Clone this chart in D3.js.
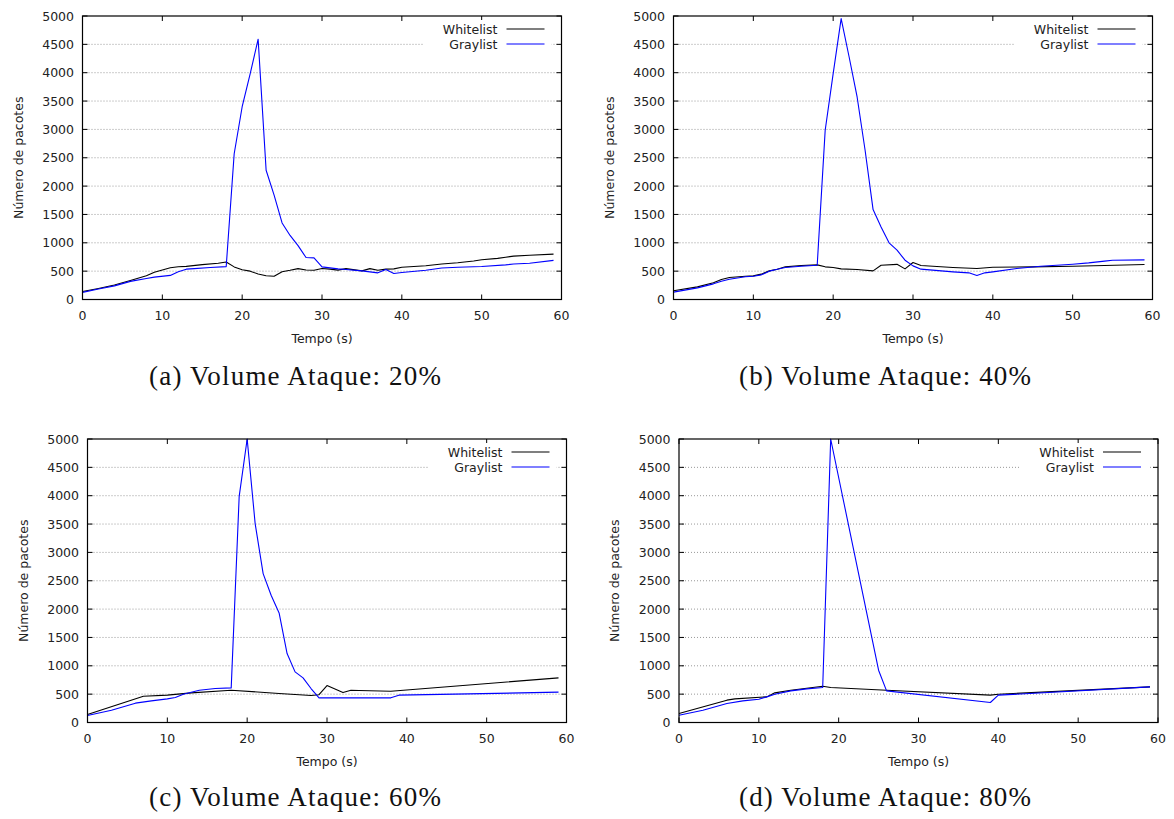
<!DOCTYPE html>
<html>
<head>
<meta charset="utf-8">
<script src="https://cdn.jsdelivr.net/npm/d3@7"></script>
<style>
  body { margin: 0; background: #fff; }
  svg { display: block; }
  .tick-label, .axis-title, .legend-label { font-family: "DejaVu Sans", sans-serif; font-size: 12.5px; fill: #222; }
  .caption { font-family: "Liberation Serif", serif; font-size: 27px; fill: #111; }
</style>
</head>
<body>
<svg id="chart" width="1174" height="819"></svg>
<script>
// tempo (s) -> numero de pacotes, vertices
const whitelist20 = [[0,140],[2,195],[4,255],[6,335],[8,420],[9,480],[10,520],[11,560],[12,578],[13,585],[15,615],[17,640],[18,660],[19,575],[20,525],[21,500],[22,450],[23,420],[24,410],[25,490],[26,515],[27,545],[28,520],[29,515],[30,548],[31,535],[32,518],[33,545],[35,505],[36,545],[37,515],[38,535],[39,540],[40,570],[43,595],[45,625],[47,648],[49,680],[50,700],[52,725],[53,745],[54,765],[56,780],[59,800]];
const graylist20 = [[0,125],[2,185],[4,240],[6,320],[8,370],[9,395],[11,425],[12,490],[13,535],[14,545],[16,565],[18,580],[19,2570],[20,3400],[21,3980],[22,4590],[23,2280],[24,1840],[25,1350],[26,1130],[27,950],[28,740],[29,735],[30,576],[31,558],[32,540],[33,528],[35,505],[36,488],[37,470],[38,528],[39,458],[40,475],[43,517],[45,555],[47,570],[50,582],[53,610],[54,625],[56,640],[59,690]];

const whitelist40 = [[0,153],[3,223],[5,294],[6,352],[7,388],[9,411],[10,417],[11,447],[12,505],[13,535],[14,576],[16,600],[18,611],[19,576],[20,564],[21,540],[23,528],[25,505],[26,605],[28,620],[29,540],[30,652],[31,600],[35,564],[38,546],[40,570],[45,576],[50,587],[54,600],[59,617]];
const graylist40 = [[0,130],[3,205],[5,276],[6,323],[7,358],[9,400],[10,411],[11,435],[12,500],[13,535],[14,564],[16,587],[18,605],[19,2985],[20,3984],[21,4953],[22,4277],[23,3572],[24,2632],[25,1586],[26,1280],[27,999],[28,870],[29,693],[30,593],[31,535],[35,488],[37,470],[38,423],[39,470],[40,488],[43,546],[46,587],[50,623],[52,646],[54,676],[55,693],[59,699]];

const whitelist60 = [[0,141],[7,464],[10,482],[13,523],[18,570],[24,511],[28,476],[29,490],[30,652],[32,529],[33,570],[34,564],[38,552],[59,787]];
const graylist60 = [[0,123],[3,217],[6,341],[8,382],[10,417],[11,441],[12,499],[14,570],[16,599],[18,611],[19,3989],[20,5000],[21,3508],[22,2626],[23,2244],[24,1933],[25,1216],[26,893],[27,787],[28,599],[29,435],[38,435],[39,482],[59,535]];

const whitelist80 = [[0,159],[6,394],[7,417],[11,452],[12,523],[14,570],[18,640],[19,617],[26,570],[39,482],[40,499],[59,629]];
const graylist80 = [[0,129],[3,217],[6,335],[8,382],[10,411],[11,452],[12,499],[14,558],[16,593],[18,617],[19,5000],[25,922],[26,558],[39,353],[40,482],[59,629]];

const xTicks = [0, 10, 20, 30, 40, 50, 60];
const yTicks = [0, 500, 1000, 1500, 2000, 2500, 3000, 3500, 4000, 4500, 5000];
const seriesNames = ["Whitelist", "Graylist"];
const seriesColors = ["#000000", "#0000ff"];
const captions = ["(a) Volume Ataque: 20%", "(b) Volume Ataque: 40%", "(c) Volume Ataque: 60%", "(d) Volume Ataque: 80%"];

const panels = [
  { left: 82.5,  top: 16,  capX: 295, capY: 385, data: [whitelist20, graylist20] },
  { left: 673.5, top: 16,  capX: 885, capY: 385, data: [whitelist40, graylist40] },
  { left: 87.5,  top: 439, capX: 295, capY: 806, data: [whitelist60, graylist60] },
  { left: 679,   top: 439, capX: 885, capY: 806, data: [whitelist80, graylist80] }
];
const W = 479, H = 283.5;

const svg = d3.select("#chart");

panels.forEach((p, i) => {
  const g = svg.append("g").attr("transform", `translate(${p.left},${p.top})`);

  const x = d3.scaleLinear().domain([0, 60]).range([0, W]);
  const y = d3.scaleLinear().domain([0, 5000]).range([H, 0]);

  // dotted grid on y ticks
  g.selectAll(".grid")
    .data(yTicks.filter(v => v > 0 && v < 5000))
    .join("line")
    .attr("class", "grid")
    .attr("x1", 0).attr("x2", W)
    .attr("y1", d => y(d)).attr("y2", d => y(d))
    .attr("stroke", "#999")
    .attr("stroke-width", 1)
    .attr("stroke-dasharray", "1,2");

  // ticks inward on all four sides
  const tickLen = 5;
  g.selectAll(".xtick-b").data(xTicks).join("line")
    .attr("x1", d => x(d)).attr("x2", d => x(d))
    .attr("y1", H).attr("y2", H - tickLen)
    .attr("stroke", "#000");
  g.selectAll(".xtick-t").data(xTicks).join("line")
    .attr("x1", d => x(d)).attr("x2", d => x(d))
    .attr("y1", 0).attr("y2", tickLen)
    .attr("stroke", "#000");
  g.selectAll(".ytick-l").data(yTicks).join("line")
    .attr("x1", 0).attr("x2", tickLen)
    .attr("y1", d => y(d)).attr("y2", d => y(d))
    .attr("stroke", "#000");
  g.selectAll(".ytick-r").data(yTicks).join("line")
    .attr("x1", W - tickLen).attr("x2", W)
    .attr("y1", d => y(d)).attr("y2", d => y(d))
    .attr("stroke", "#000");

  // tick labels
  g.selectAll(".xlab").data(xTicks).join("text")
    .attr("class", "tick-label")
    .attr("x", d => x(d)).attr("y", H + 20.5)
    .attr("text-anchor", "middle")
    .text(d => d);
  g.selectAll(".ylab").data(yTicks).join("text")
    .attr("class", "tick-label")
    .attr("x", -8.5).attr("y", d => y(d) + 4.5)
    .attr("text-anchor", "end")
    .text(d => d);

  // legend box (opaque, hides grid)
  g.append("rect")
    .attr("x", W - 138).attr("y", 4)
    .attr("width", 128).attr("height", 32)
    .attr("fill", "#fff");

  // data lines
  const line = d3.line().x(d => x(d[0])).y(d => y(d[1]));
  p.data.forEach((s, k) => {
    g.append("path")
      .datum(s)
      .attr("fill", "none")
      .attr("stroke", seriesColors[k])
      .attr("stroke-width", 1.1)
      .attr("stroke-linejoin", "round")
      .attr("d", line);
  });

  // legend entries
  seriesNames.forEach((name, k) => {
    const ly = 13 + k * 15;
    g.append("text")
      .attr("class", "legend-label")
      .attr("x", W - 64).attr("y", ly + 4.5)
      .attr("text-anchor", "end")
      .text(name);
    g.append("line")
      .attr("x1", W - 55).attr("x2", W - 17)
      .attr("y1", ly).attr("y2", ly)
      .attr("stroke", seriesColors[k])
      .attr("stroke-width", 1.1);
  });

  // frame
  g.append("rect")
    .attr("x", 0).attr("y", 0)
    .attr("width", W).attr("height", H)
    .attr("fill", "none")
    .attr("stroke", "#000")
    .attr("stroke-width", 1.2);

  // axis titles
  g.append("text")
    .attr("class", "axis-title")
    .attr("x", W / 2).attr("y", H + 43)
    .attr("text-anchor", "middle")
    .text("Tempo (s)");
  g.append("text")
    .attr("class", "axis-title")
    .attr("transform", `translate(-60,${H / 2}) rotate(-90)`)
    .attr("text-anchor", "middle")
    .text("Número de pacotes");

  // caption
  svg.append("text")
    .attr("class", "caption")
    .attr("x", p.capX).attr("y", p.capY)
    .attr("text-anchor", "middle")
    .attr("textLength", 292)
    .attr("lengthAdjust", "spacing")
    .text(captions[i]);
});
</script>
</body>
</html>
